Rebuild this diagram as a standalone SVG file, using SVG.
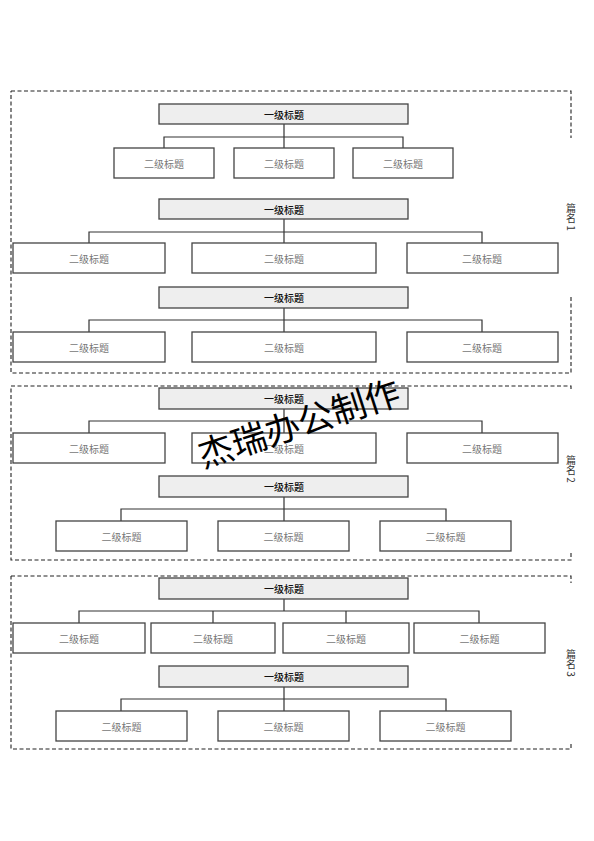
<svg xmlns="http://www.w3.org/2000/svg" width="594" height="841" viewBox="0 0 594 841">
<style>
.frame{fill:none;stroke:#222;stroke-width:1.1;stroke-dasharray:4 2.5}
.l1 rect{fill:#eeeeee;stroke:#444;stroke-width:1.3}
.l2 rect{fill:#fff;stroke:#444;stroke-width:1.3}
.l1 text{font-family:"Noto Sans CJK SC","Noto Sans",sans-serif;font-size:10px;font-weight:500;fill:#111;text-anchor:middle;dominant-baseline:central}
.l2 text{font-family:"Noto Sans CJK SC","Noto Sans",sans-serif;font-size:10px;fill:#777;text-anchor:middle;dominant-baseline:central}
.conn{fill:none;stroke:#333;stroke-width:1.2}
.side{font-family:"Noto Sans CJK SC","Noto Sans",sans-serif;font-size:10px;fill:#333;writing-mode:vertical-rl;text-orientation:mixed;text-anchor:middle}
.wm{font-family:"Noto Sans CJK SC","Noto Sans",sans-serif;font-size:35px;fill:#000;text-anchor:middle;dominant-baseline:central}
</style>
<rect width="594" height="841" fill="#fff"/>
<g id="frames">
<path class="frame" d="M11,91 H571 V138 M571,297 V373 H11 V91"/>
<path class="frame" d="M11,386 H571 V391 M571,553 V560 H11 V386"/>
<path class="frame" d="M11,576 H571 V583 M571,744 V749 H11 V576"/>
</g>
<g id="label-1"><text class="side" x="571" y="217">篇名 1</text></g>
<g id="label-2"><text class="side" x="571" y="469">篇名 2</text></g>
<g id="label-3"><text class="side" x="571" y="663">篇名 3</text></g>
<g id="connectors">
<path class="conn" d="M284,124 V137 M164,148 V137 H403 V148 M284,137 V148"/>
<path class="conn" d="M284,219 V232 M89,243 V232 H482 V243 M284,232 V243"/>
<path class="conn" d="M284,308 V320 M89,332 V320 H482 V332 M284,320 V332"/>
<path class="conn" d="M284,409 V421 M89,433 V421 H482 V433 M284,421 V433"/>
<path class="conn" d="M284,497 V509 M121,521 V509 H446 V521 M284,509 V521"/>
<path class="conn" d="M284,599 V611 M79,623 V611 H479 V623 M213,611 V623 M346,611 V623"/>
<path class="conn" d="M284,687 V699 M121,711 V699 H446 V711 M284,699 V711"/>
</g>
<g id="n-a" class="l1"><rect x="159" y="104" width="249" height="20"/><text x="284" y="114">一级标题</text></g>
<g id="n-a1" class="l2"><rect x="114" y="148" width="100" height="30"/><text x="164" y="163">二级标题</text></g>
<g id="n-a2" class="l2"><rect x="234" y="148" width="100" height="30"/><text x="284" y="163">二级标题</text></g>
<g id="n-a3" class="l2"><rect x="353" y="148" width="100" height="30"/><text x="403" y="163">二级标题</text></g>
<g id="n-b" class="l1"><rect x="159" y="199" width="249" height="20"/><text x="284" y="209">一级标题</text></g>
<g id="n-b1" class="l2"><rect x="13" y="243" width="152" height="30"/><text x="89" y="258">二级标题</text></g>
<g id="n-b2" class="l2"><rect x="192" y="243" width="184" height="30"/><text x="284" y="258">二级标题</text></g>
<g id="n-b3" class="l2"><rect x="407" y="243" width="151" height="30"/><text x="482" y="258">二级标题</text></g>
<g id="n-c" class="l1"><rect x="159" y="287" width="249" height="21"/><text x="284" y="297.5">一级标题</text></g>
<g id="n-c1" class="l2"><rect x="13" y="332" width="152" height="30"/><text x="89" y="347">二级标题</text></g>
<g id="n-c2" class="l2"><rect x="192" y="332" width="184" height="30"/><text x="284" y="347">二级标题</text></g>
<g id="n-c3" class="l2"><rect x="407" y="332" width="151" height="30"/><text x="482" y="347">二级标题</text></g>
<g id="n-d" class="l1"><rect x="159" y="388" width="249" height="21"/><text x="284" y="398.5">一级标题</text></g>
<g id="n-d1" class="l2"><rect x="13" y="433" width="152" height="30"/><text x="89" y="448">二级标题</text></g>
<g id="n-d2" class="l2"><rect x="192" y="433" width="184" height="30"/><text x="284" y="448">二级标题</text></g>
<g id="n-d3" class="l2"><rect x="407" y="433" width="151" height="30"/><text x="482" y="448">二级标题</text></g>
<g id="n-e" class="l1"><rect x="159" y="476" width="249" height="21"/><text x="284" y="486.5">一级标题</text></g>
<g id="n-e1" class="l2"><rect x="56" y="521" width="131" height="30"/><text x="121.5" y="536">二级标题</text></g>
<g id="n-e2" class="l2"><rect x="218" y="521" width="131" height="30"/><text x="283.5" y="536">二级标题</text></g>
<g id="n-e3" class="l2"><rect x="380" y="521" width="131" height="30"/><text x="445.5" y="536">二级标题</text></g>
<g id="n-f" class="l1"><rect x="159" y="578" width="249" height="21"/><text x="284" y="588.5">一级标题</text></g>
<g id="n-f1" class="l2"><rect x="13" y="623" width="132" height="30"/><text x="79" y="638">二级标题</text></g>
<g id="n-f2" class="l2"><rect x="151" y="623" width="124" height="30"/><text x="213" y="638">二级标题</text></g>
<g id="n-f3" class="l2"><rect x="283" y="623" width="126" height="30"/><text x="346" y="638">二级标题</text></g>
<g id="n-f4" class="l2"><rect x="414" y="623" width="131" height="30"/><text x="479.5" y="638">二级标题</text></g>
<g id="n-g" class="l1"><rect x="159" y="666" width="249" height="21"/><text x="284" y="676.5">一级标题</text></g>
<g id="n-g1" class="l2"><rect x="56" y="711" width="131" height="30"/><text x="121.5" y="726">二级标题</text></g>
<g id="n-g2" class="l2"><rect x="218" y="711" width="131" height="30"/><text x="283.5" y="726">二级标题</text></g>
<g id="n-g3" class="l2"><rect x="380" y="711" width="131" height="30"/><text x="445.5" y="726">二级标题</text></g>
<text class="wm" transform="translate(298,421) rotate(-18)">杰瑞办公制作</text>
</svg>
